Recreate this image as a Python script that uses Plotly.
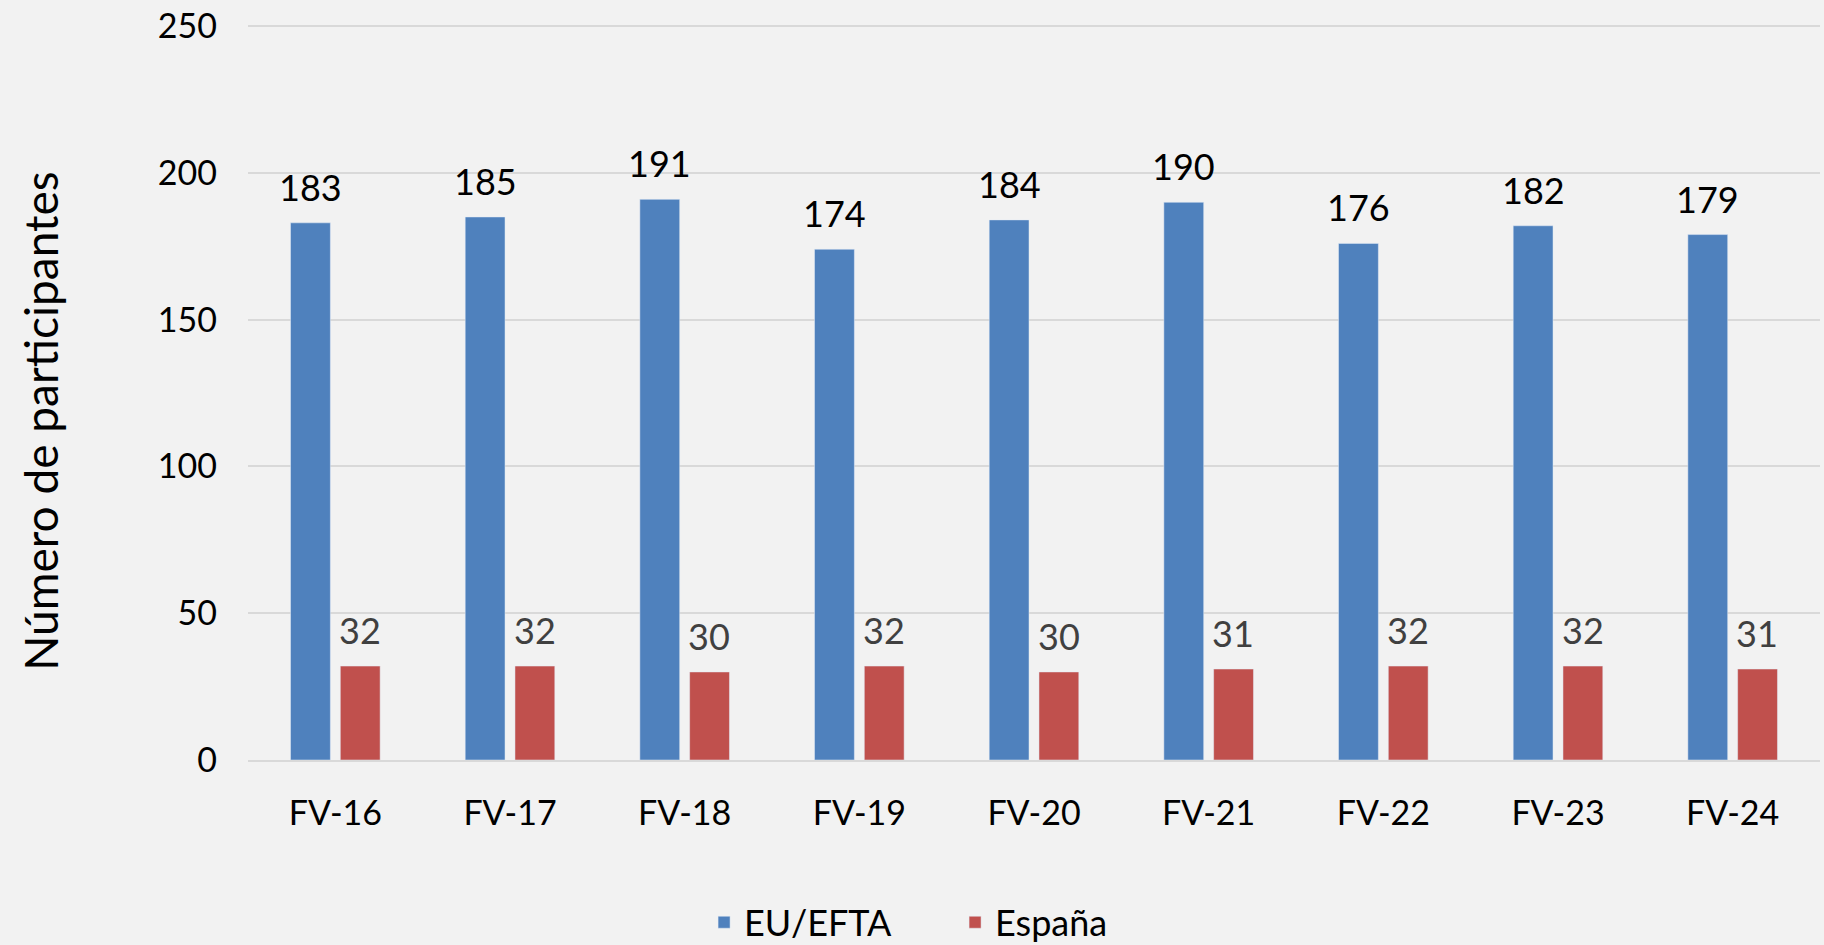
import plotly.graph_objects as go

categories = ["FV-16", "FV-17", "FV-18", "FV-19", "FV-20", "FV-21", "FV-22", "FV-23", "FV-24"]
eu_efta = [183, 185, 191, 174, 184, 190, 176, 182, 179]
espana = [32, 32, 30, 32, 30, 31, 32, 32, 31]

BLUE = "#4f81bd"
RED = "#c0504d"
BG = "#f2f2f2"
FONT = "Lato, Calibri, sans-serif"

fig = go.Figure()
fig.add_trace(go.Bar(x=categories, y=eu_efta, name="EU/EFTA", marker_color=BLUE))
fig.add_trace(go.Bar(x=categories, y=espana, name="España", marker_color=RED))

# value labels above bars, offset to each bar of the group
offset = 0.142
for i, (a, b) in enumerate(zip(eu_efta, espana)):
    fig.add_annotation(x=i - offset, y=a, text=str(a), showarrow=False,
                       yanchor="bottom", yshift=12,
                       font={"size": 36, "color": "#000000", "family": FONT})
    fig.add_annotation(x=i + offset, y=b, text=str(b), showarrow=False,
                       yanchor="bottom", yshift=12,
                       font={"size": 36, "color": "#404040", "family": FONT})

fig.add_annotation(text="Número de participantes", textangle=-90,
                   xref="paper", yref="paper", x=-0.132, y=0.461,
                   xanchor="center", yanchor="middle", showarrow=False,
                   font={"size": 46, "color": "#000000", "family": FONT})

fig.update_layout(
    width=1824,
    height=945,
    paper_bgcolor=BG,
    plot_bgcolor=BG,
    margin={"l": 248, "r": 4, "t": 23, "b": 185},
    barmode="group",
    bargap=0.43,
    bargroupgap=0.2,
    font={"family": FONT, "size": 34, "color": "#000000"},
    showlegend=True,
    legend={
        "orientation": "h",
        "xref": "container",
        "yref": "container",
        "x": 0.386,
        "xanchor": "left",
        "y": 0.024,
        "yanchor": "middle",
        "font": {"size": 36},
        "itemwidth": 30,
        "entrywidth": 206,
    },
)
fig.update_yaxes(range=[0, 250.4], tickvals=[0, 50, 100, 150, 200, 250],
                 showgrid=True, gridcolor="#d9d9d9",
                 gridwidth=1.5, zeroline=False, showline=False,
                 ticklabelstandoff=30, tickfont={"size": 34})
fig.update_xaxes(showline=True, linecolor="#d9d9d9", linewidth=1.5,
                 ticklabelstandoff=22, tickfont={"size": 34})

fig.write_html("out.html", config={"displayModeBar": False},
               post_script="document.body.style.margin='0';")
